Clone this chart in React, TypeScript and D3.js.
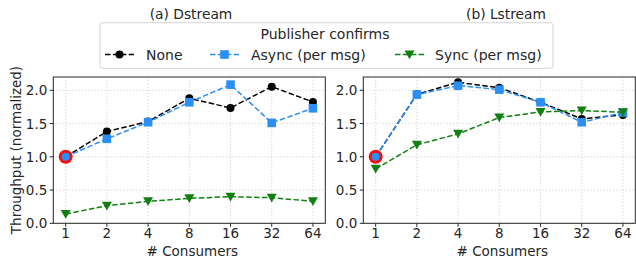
import React from "react";
import * as d3 from "d3";

const consumers = ["1", "2", "4", "8", "16", "32", "64"];
const yTicks = [0, 0.5, 1.0, 1.5, 2.0];

const dNone = [1.0, 1.38, 1.53, 1.88, 1.735, 2.055, 1.825];
const dAsync = [1.0, 1.27, 1.52, 1.82, 2.085, 1.51, 1.73];
const dSync = [0.14, 0.265, 0.33, 0.375, 0.40, 0.385, 0.33];

const lNone = [1.0, 1.94, 2.12, 2.04, 1.82, 1.57, 1.63];
const lAsync = [1.0, 1.935, 2.07, 2.01, 1.82, 1.52, 1.665];
const lSync = [0.82, 1.18, 1.345, 1.59, 1.675, 1.695, 1.67];

const seriesNames = ["None", "Async (per msg)", "Sync (per msg)"];
const seriesColors = ["#000000", "#2b8ff5", "#118011"];

const FONT = "DejaVu Sans, sans-serif";

type PanelProps = { x0: number; data: number[][]; showY: boolean };

function Marker({ kind, x, y, color }: { kind: number; x: number; y: number; color: string }) {
  if (kind === 0) return <circle cx={x} cy={y} r={4} fill={color} />;
  if (kind === 1) return <rect x={x - 4.3} y={y - 4.3} width={8.6} height={8.6} fill={color} />;
  const s = 5;
  return <path d={`M${x - s},${y - s * 0.8} L${x + s},${y - s * 0.8} L${x},${y + s * 0.95} Z`} fill={color} />;
}

function Panel({ x0, data, showY }: PanelProps) {
  const w = 272;
  const top = 77;
  const bottom = 223.3;
  const x = d3.scaleLinear().domain([-0.3, 6.3]).range([x0, x0 + w]);
  const y = d3.scaleLinear().domain([0, 2.2]).range([bottom, top]);
  const line = d3.line<number>().x((_, i) => x(i)).y((v) => y(v));
  return (
    <g>
      {consumers.map((c, i) => (
        <line key={"gx" + c} x1={x(i)} x2={x(i)} y1={top} y2={bottom} stroke="#c8c8c8" strokeWidth={0.8} strokeDasharray="1.2,2" />
      ))}
      {yTicks.map((t) => (
        <line key={"gy" + t} x1={x0} x2={x0 + w} y1={y(t)} y2={y(t)} stroke="#c8c8c8" strokeWidth={0.8} strokeDasharray="1.2,2" />
      ))}
      {data.map((s, k) => (
        <g key={"s" + k}>
          <path d={line(s) || ""} fill="none" stroke={seriesColors[k]} strokeWidth={1.5} strokeDasharray="5.5,2.4" />
          {s.map((v, i) => (
            <Marker key={i} kind={k} x={x(i)} y={y(v)} color={seriesColors[k]} />
          ))}
        </g>
      ))}
      <circle cx={x(0)} cy={y(1.0)} r={5.5} fill="#2b8ff5" stroke="#ee1111" strokeWidth={3} />
      <rect x={x0} y={top} width={w} height={bottom - top} fill="none" stroke="#262626" strokeWidth={1} />
      {consumers.map((c, i) => (
        <g key={"tx" + c}>
          <line x1={x(i)} x2={x(i)} y1={bottom} y2={bottom + 3.5} stroke="#262626" />
          <text x={x(i)} y={bottom + 15} textAnchor="middle" fontSize={13.5} fontFamily={FONT} fill="#262626">{c}</text>
        </g>
      ))}
      {yTicks.map((t) => (
        <g key={"ty" + t}>
          <line x1={x0 - 3.5} x2={x0} y1={y(t)} y2={y(t)} stroke="#262626" />
          <text x={x0 - 6} y={y(t) + 5} textAnchor="end" fontSize={13.5} fontFamily={FONT} fill="#262626">{t.toFixed(1)}</text>
        </g>
      ))}
      <text x={x0 + w / 2 + 3} y={256} textAnchor="middle" fontSize={13.5} fontFamily={FONT} fill="#262626"># Consumers</text>
      {showY && (
        <text transform={`translate(21,150) rotate(-90)`} textAnchor="middle" fontSize={13.5} fontFamily={FONT} fill="#262626">Throughput (normalized)</text>
      )}
    </g>
  );
}

export default function App() {
  const legendY = 54.5;
  const entries = [
    { lx: 105, tx: 146 },
    { lx: 210, tx: 251 },
    { lx: 395, tx: 435 },
  ];
  return (
    <svg width={636} height={265} style={{ position: "absolute", left: 0, top: 0 }}>
      <rect width={636} height={265} fill="#ffffff" />
      <text x={191} y={18.5} textAnchor="middle" fontSize={13.8} fontFamily={FONT} fill="#262626">(a) Dstream</text>
      <text x={506} y={18.5} textAnchor="middle" fontSize={13.8} fontFamily={FONT} fill="#262626">(b) Lstream</text>
      <Panel x0={53.3} data={[dNone, dAsync, dSync]} showY={true} />
      <Panel x0={363.3} data={[lNone, lAsync, lSync]} showY={false} />
      <rect x={100} y={22.7} width={453} height={45.6} rx={3} fill="#ffffff" fillOpacity={0.85} stroke="#d5d5d5" strokeWidth={1} />
      <text x={325} y={38.5} textAnchor="middle" fontSize={14} fontFamily={FONT} fill="#262626">Publisher confirms</text>
      {entries.map((e, k) => (
        <g key={k}>
          <line x1={e.lx} x2={e.lx + 29} y1={legendY} y2={legendY} stroke={seriesColors[k]} strokeWidth={1.5} strokeDasharray="5.5,2.4" />
          <Marker kind={k} x={e.lx + 14.5} y={legendY} color={seriesColors[k]} />
          <text x={e.tx} y={legendY + 5} fontSize={14} fontFamily={FONT} fill="#262626">{seriesNames[k]}</text>
        </g>
      ))}
    </svg>
  );
}
